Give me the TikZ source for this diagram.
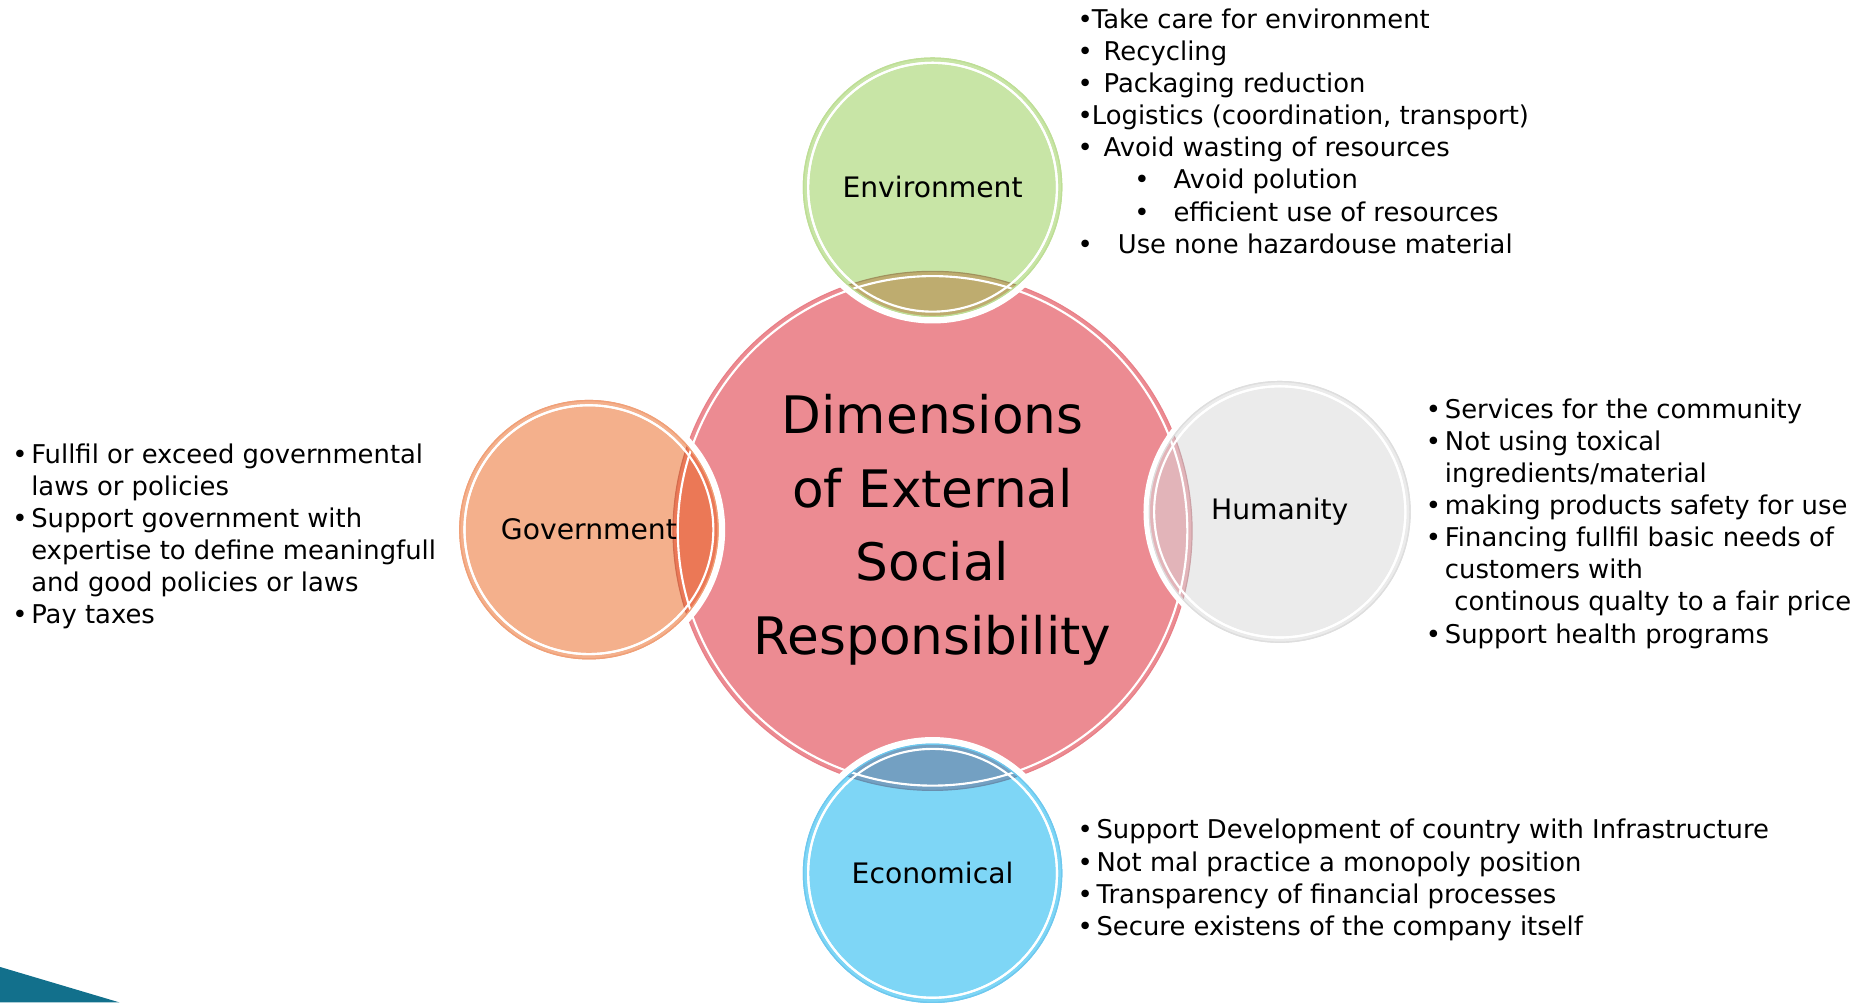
\documentclass[tikz,border=0pt]{standalone}
\usepackage{fontspec}
\setmainfont{DejaVu Sans}
\usetikzlibrary{positioning}
\definecolor{CoreColor}{RGB}{236,139,146}
\definecolor{CoreLine}{RGB}{232,128,136}
\definecolor{EnvColor}{RGB}{200,229,166}
\definecolor{EnvLine}{RGB}{190,222,150}
\definecolor{EnvLens}{RGB}{190,172,111}
\definecolor{GovColor}{RGB}{244,176,140}
\definecolor{GovLine}{RGB}{240,160,120}
\definecolor{GovLens}{RGB}{235,120,86}
\definecolor{HumColor}{RGB}{235,235,235}
\definecolor{HumLine}{RGB}{222,222,222}
\definecolor{HumLens}{RGB}{226,180,185}
\definecolor{EcoColor}{RGB}{126,214,246}
\definecolor{EcoLine}{RGB}{110,200,238}
\definecolor{EcoLens}{RGB}{115,160,194}
\definecolor{TealColor}{RGB}{18,112,140}
\tikzstyle{bullets} = [align=left, anchor=north west, inner sep=0pt, font=\fontsize{10.9}{13.55}\selectfont]
\tikzstyle{dimlabel} = [inner sep=0pt, font=\fontsize{11.9}{14}\selectfont]
\tikzstyle{coretitle} = [align=center, inner sep=0pt, font=\fontsize{21.8}{31}\selectfont]
\tikzstyle{ring} = [white, line width=0.9pt]
% bullet line: width from bullet to text, then text
\newcommand{\itm}[2]{\makebox[#1][l]{\textbullet}#2}
% disk with inner white ring and outline
\newcommand{\ringdisk}[4]{%
  \fill[#3] (#1) circle (#2);
  \draw[ring] (#1) circle (#2-4);
  \draw[#4, line width=0.5pt] (#1) circle (#2);}
% overlap of a small disk with the core disk
\newcommand{\lens}[4]{%
  \begin{scope}
    \clip (#1) circle (#2);
    \fill[#3] (core) circle (219);
    \draw[ring] (core) circle (215);
    \draw[#4, line width=0.5pt] (core) circle (219);
  \end{scope}}

\begin{document}
\begin{tikzpicture}[x=0.5pt, y=-0.5pt]
\useasboundingbox (0,0) rectangle (1568,846);

% centres
\coordinate (core) at (787,448);
\coordinate (envc) at (787,158);
\coordinate (govc) at (497,447);
\coordinate (humc) at (1080,432);
\coordinate (ecoc) at (787,737);

% core circle
\ringdisk{core}{219}{CoreColor}{CoreLine}

% white borders of the small circles
\foreach \c in {envc,govc,humc,ecoc}
  \fill[white] (\c) circle (115);

% Environment
\ringdisk{envc}{109}{EnvColor}{EnvLine}
\lens{envc}{109}{EnvLens}{EnvLens!85!black}
\draw[ring] (envc) circle (105);
\draw[EnvLine, line width=0.5pt] (envc) circle (109);

% Government
\ringdisk{govc}{109}{GovColor}{GovLine}
\lens{govc}{109}{GovLens}{GovLens!90!black}
\draw[ring] (govc) circle (105);
\draw[GovLine, line width=0.5pt] (govc) circle (109);

% Humanity
\ringdisk{humc}{110}{HumColor}{HumLine}
\lens{humc}{110}{HumLens}{HumLens!90!black}
\draw[ring] (humc) circle (106);
\draw[HumLine, line width=0.5pt] (humc) circle (110);

% Economical
\ringdisk{ecoc}{109}{EcoColor}{EcoLine}
\lens{ecoc}{109}{EcoLens}{EcoLens!90!black}
\draw[ring] (ecoc) circle (105);
\draw[EcoLine, line width=0.5pt] (ecoc) circle (109);

% labels
\node[coretitle] (title) at (787,447) {Dimensions\\of External\\Social\\Responsibility};
\node[dimlabel] (env) at (envc) {Environment};
\node[dimlabel] (gov) at (govc) {Government};
\node[dimlabel] (hum) at (humc) {Humanity};
\node[dimlabel] (eco) at (ecoc) {Economical};

% bullet lists
\node[bullets] (envlist) at (909,7) {%
  \itm{6pt}{Take care for environment}\\
  \itm{11pt}{Recycling}\\
  \itm{11pt}{Packaging reduction}\\
  \itm{6pt}{Logistics (coordination, transport)}\\
  \itm{11pt}{Avoid wasting of resources}\\
  \hspace*{24pt}\itm{16.5pt}{Avoid polution}\\
  \hspace*{24pt}\itm{16.5pt}{efficient use of resources}\\
  \itm{17pt}{Use none hazardouse material}};
\node[bullets] (govlist) at (10,374) {%
  \itm{8pt}{Fullfil or exceed governmental}\\
  \hspace*{8pt}laws or policies\\
  \itm{8pt}{Support government with}\\
  \hspace*{8pt}expertise to define meaningfull\\
  \hspace*{8pt}and good policies or laws\\
  \itm{8pt}{Pay taxes}};
\node[bullets] (humlist) at (1203,336) {%
  \itm{8pt}{Services for the community}\\
  \itm{8pt}{Not using toxical}\\
  \hspace*{8pt}ingredients/material\\
  \itm{8pt}{making products safety for use}\\
  \itm{8pt}{Financing fullfil basic needs of}\\
  \hspace*{8pt}customers with\\
  \hspace*{12pt}continous qualty to a fair price\\
  \itm{8pt}{Support health programs}};
\node[bullets] (ecolist) at (909,691) {%
  \itm{8pt}{Support Development of country with Infrastructure}\\
  \itm{8pt}{Not mal practice a monopoly position}\\
  \itm{8pt}{Transparency of financial processes}\\
  \itm{8pt}{Secure existens of the company itself}};

% corner decoration
\fill[TealColor] (0,816) -- (101,846) -- (0,846) -- cycle;
\end{tikzpicture}
\end{document}
